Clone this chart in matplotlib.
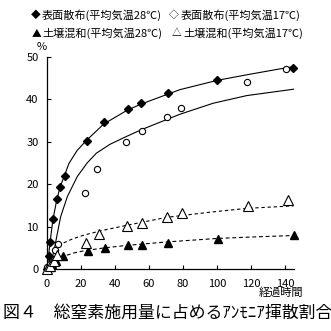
import matplotlib
matplotlib.use("Agg")
import matplotlib.pyplot as plt

plt.rcParams['font.family'] = ['Noto Sans CJK JP', 'DejaVu Sans']

# 表面散布(平均気温28℃) - 実測値
t_s28 = [0, 1.2, 2.0, 3.5, 5.7, 7.6, 10.4, 23.4, 33.4, 47.4, 55.4, 71.0, 100.2, 144.5]
y_s28 = [0, 3.0, 6.3, 11.7, 16.4, 19.3, 21.9, 30.2, 34.7, 37.7, 39.2, 41.4, 44.5, 47.5]
# 表面散布(平均気温17℃)
t_s17 = [0, 1.5, 4.7, 6.3, 22.4, 29.6, 46.4, 55.8, 70.7, 78.8, 117.5, 140.6]
y_s17 = [0.5, 1.2, 4.5, 5.8, 17.9, 23.5, 30.0, 32.6, 35.8, 38.0, 44.1, 47.2]
# 土壌混和(平均気温28℃)
t_m28 = [0, 1.5, 3.0, 5.0, 9.6, 24.0, 34.0, 47.8, 56.0, 71.0, 100.7, 145.2]
y_m28 = [0, 0.5, 1.2, 2.0, 3.0, 4.2, 5.0, 5.7, 5.7, 6.2, 7.1, 8.0]
# 土壌混和(平均気温17℃)
t_m17 = [0, 2.0, 4.0, 5.7, 23.2, 30.8, 46.8, 56.0, 70.7, 79.7, 118.3, 141.9]
y_m17 = [0, 0.8, 1.8, 3.4, 6.1, 8.3, 10.1, 10.9, 12.3, 13.1, 14.9, 16.3]

# 近似曲線
ct_s28 = [0, 1, 2.2, 3.5, 5.7, 7.6, 10.4, 12.9, 17.8, 23.4, 33.4, 47.4, 55.4, 70.8, 78.2, 100.2, 117.5, 137, 145]
cy_s28 = [0, 3.5, 7.6, 11.7, 16.2, 19.2, 22.2, 24.9, 28.0, 30.4, 34.2, 37.5, 38.9, 41.2, 42.3, 44.5, 45.8, 47.2, 47.7]
ct_s17 = [0, 2, 4, 5.7, 8, 12, 17.8, 23.6, 29, 37, 46.4, 55.8, 70.7, 78.2, 97.8, 117.5, 145]
cy_s17 = [0, 1.5, 4.0, 7.6, 12.3, 17.1, 21.8, 25.0, 27.3, 29.4, 31.2, 32.9, 35.3, 36.5, 39.1, 40.9, 42.4]
ct_m17 = [6.6, 10, 15, 21.8, 31.5, 46.8, 70.7, 96, 117.5, 145]
cy_m17 = [5.5, 6.2, 7.1, 8.0, 9.0, 10.3, 12.2, 13.4, 14.3, 14.9]
ct_m28 = [8, 12, 16, 21.8, 34, 47.8, 71, 100, 117.5, 145]
cy_m28 = [2.7, 3.3, 3.8, 4.3, 5.0, 5.6, 6.4, 7.2, 7.5, 7.9]

W = 331.0
fig = plt.figure(figsize=(3.31, 3.31), dpi=100)
ax = fig.add_axes([47 / W, 62 / W, 246.5 / W, 212 / W])

def px(x, y):
    return x / W, 1 - y / W

# 曲線
ax.plot(ct_s28, cy_s28, color='black', lw=0.8)
ax.plot(ct_s17, cy_s17, color='black', lw=0.8)
ax.plot(ct_m17, cy_m17, color='black', lw=0.8, ls=(0, (3, 2.5)))
ax.plot(ct_m28, cy_m28, color='black', lw=0.8, ls=(0, (3.5, 2.5)))

# 実測値
ax.plot(t_s28, y_s28, 'D', color='black', ms=4.3, clip_on=False, zorder=3)
ax.plot(t_s17, y_s17, 'o', mfc='white', mec='black', mew=0.8, ms=4.5, clip_on=False, zorder=3)
ax.plot(t_m28, y_m28, '^', color='black', ms=6, clip_on=False, zorder=3)
ax.plot(t_m17, y_m17, '^', mfc='white', mec='black', mew=0.8, ms=6.5, clip_on=False, zorder=3)

ax.set_xlim(0, 145)
ax.set_ylim(0, 50)
ax.set_xticks(range(0, 141, 20))
ax.set_yticks(range(0, 51, 10))
ax.spines['top'].set_visible(False)
ax.spines['right'].set_visible(False)
ax.spines['left'].set_linewidth(0.9)
ax.spines['bottom'].set_linewidth(0.9)
ax.tick_params(direction='in', length=3, width=0.8, labelsize=8)
ax.tick_params(axis='x', pad=7)
ax.tick_params(axis='y', pad=6)

# 凡例
fs = 8
fig.text(*px(36, 15), '◆', fontsize=7, ha='center', va='center')
fig.text(*px(42, 15), '表面散布(平均気温28℃)', fontsize=fs, ha='left', va='center')
fig.text(*px(174, 15), '◇', fontsize=7, ha='center', va='center')
fig.text(*px(181, 15), '表面散布(平均気温17℃)', fontsize=fs, ha='left', va='center')
fig.text(*px(37, 33), '▲', fontsize=7, ha='center', va='center')
fig.text(*px(42, 33), '土壌混和(平均気温28℃)', fontsize=fs, ha='left', va='center')
fig.text(*px(177, 33), '△', fontsize=7, ha='center', va='center')
fig.text(*px(183, 33), '土壌混和(平均気温17℃)', fontsize=fs, ha='left', va='center')

fig.text(*px(42, 47), '%', fontsize=8, ha='center', va='center')
fig.text(*px(281, 293), '経過時間', fontsize=8, ha='center', va='center')
fig.text(*px(3, 313), '図４　総窒素施用量に占めるｱﾝﾓﾆｱ揮散割合', fontsize=12.2, ha='left', va='center')

fig.savefig('out.png', dpi=100)
